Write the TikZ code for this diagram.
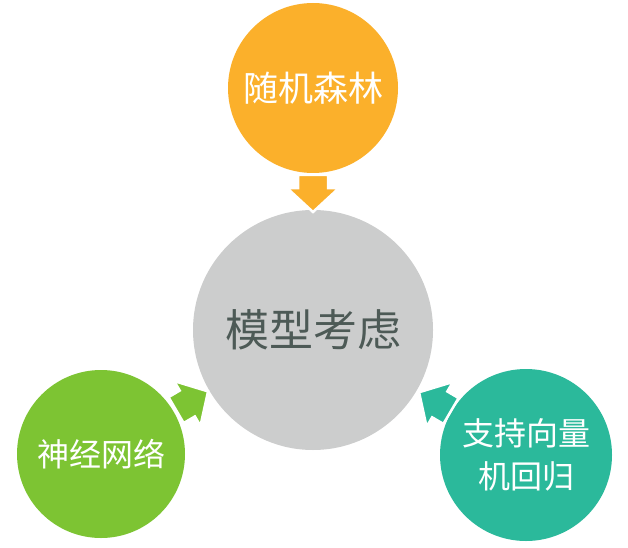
\documentclass[tikz,border=0pt]{standalone}
\usepackage{fontspec}
\setmainfont{Noto Sans CJK SC}
\usetikzlibrary{calc}

\definecolor{rfcol}{HTML}{FBB02B}
\definecolor{corecol}{HTML}{CCCDCD}
\definecolor{nncol}{HTML}{7DC433}
\definecolor{svmcol}{HTML}{2BB99B}
\definecolor{coretext}{HTML}{4D5A56}

\begin{document}
\begin{tikzpicture}[x=1pt, y=1pt]
  \useasboundingbox (0,0) rectangle (628,547);
  \tikzset{ball/.style={circle, inner sep=0pt, text=white, align=center},
           feed/.style={line width=2.5pt, draw=white, line join=miter}}

  % central topic and the three model families around it
  \node[ball, fill=corecol, minimum size=240pt, text=coretext,
        font=\fontsize{44}{50}\selectfont] (core) at (313,217) {模型考虑};
  \node[ball, fill=rfcol, minimum size=170pt,
        font=\fontsize{35}{40}\selectfont] (rf) at (313,459) {随机森林};
  \node[ball, fill=nncol, minimum size=168pt,
        font=\fontsize{32}{37}\selectfont] (nn) at (101,93) {神经网络};
  \node[ball, fill=svmcol, minimum size=172pt,
        font=\fontsize{32}{43}\selectfont] (svm) at (526,92) {支持向量\\机回归};

  % block arrows pointing into the centre
  \foreach \src/\col in {rf/rfcol, nn/nncol, svm/svmcol}{
    \pgfmathanglebetweenpoints{\pgfpointanchor{\src}{center}}{\pgfpointanchor{core}{center}}
    \let\ang\pgfmathresult
    \begin{scope}[shift={(\src.center)}, rotate=\ang]
      \filldraw[feed, fill=\col] (87,-15) -- (100,-15) -- (100,-26) -- (124,0)
        -- (100,26) -- (100,15) -- (87,15) -- cycle;
    \end{scope}
  }
\end{tikzpicture}
\end{document}
